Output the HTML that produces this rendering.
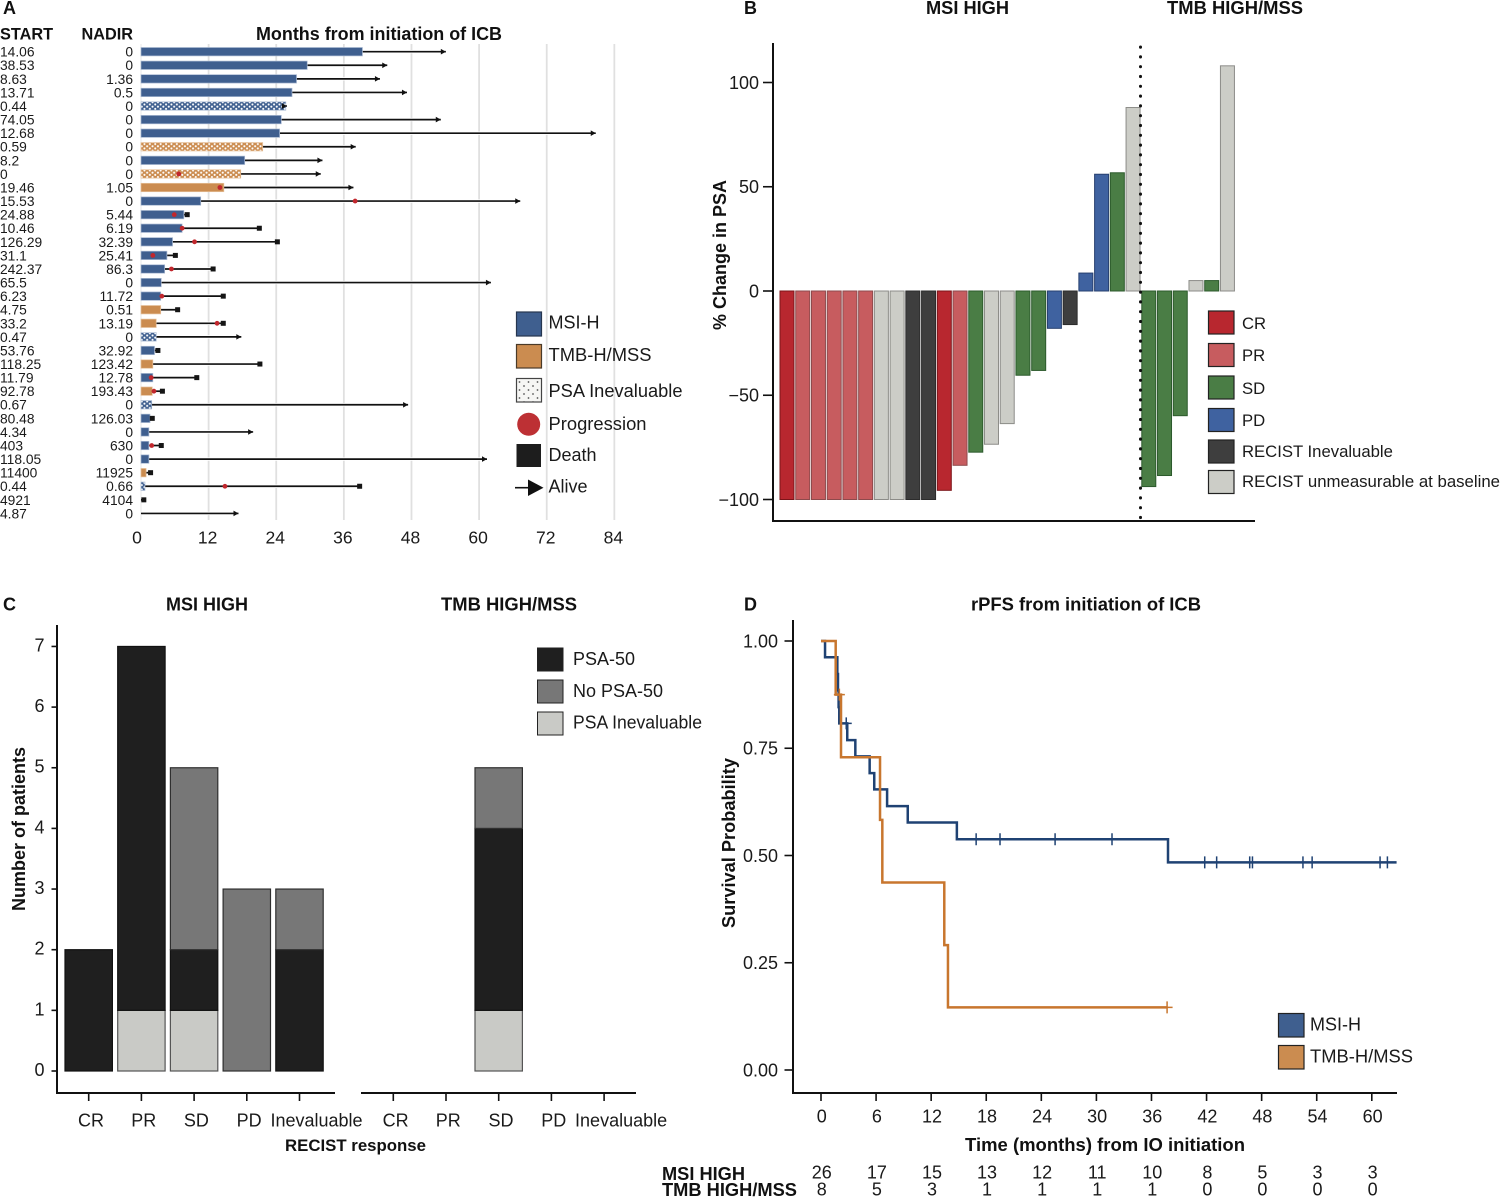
<!DOCTYPE html>
<html lang="en">
<head>
<meta charset="utf-8">
<title>ICB response in prostate cancer: four panel figure</title>
<style>
html,body{margin:0;padding:0;background:#fff;}
svg{display:block;font-family:"Liberation Sans",Arial,sans-serif;fill:#111;}
.b{font-weight:bold;}
.l{font-size:18px;fill:#1a1a1a;}
.h{font-size:18px;font-weight:bold;fill:#111;}
</style>
</head>
<body>
<svg id="fig" xmlns="http://www.w3.org/2000/svg" width="1500" height="1197" viewBox="0 0 1500 1197">
<defs>
<pattern id="dotBlue" width="5.4" height="4.4" patternUnits="userSpaceOnUse"><rect width="5.4" height="4.4" fill="#3f5f8f"/><circle cx="1.35" cy="1.1" r="1.05" fill="#fff"/><circle cx="4.05" cy="3.3" r="1.05" fill="#fff"/></pattern>
<pattern id="dotOrange" width="5.4" height="4.4" patternUnits="userSpaceOnUse"><rect width="5.4" height="4.4" fill="#cb8c50"/><circle cx="1.35" cy="1.1" r="1.05" fill="#fff"/><circle cx="4.05" cy="3.3" r="1.05" fill="#fff"/></pattern>
<pattern id="dotGrey" width="9" height="8" patternUnits="userSpaceOnUse"><rect width="9" height="8" fill="#f6f6f4"/><circle cx="2" cy="2" r="0.9" fill="#555"/><circle cx="6.5" cy="6" r="0.9" fill="#555"/></pattern>
</defs>

<!-- Panel A static -->
<g>
<text x="3" y="14" class="h">A</text>
<text x="0" y="39.5" class="b" font-size="16.3">START</text>
<text x="133" y="39.5" class="b" font-size="16.3" text-anchor="end">NADIR</text>
<text x="256" y="40" class="h" textLength="246" lengthAdjust="spacingAndGlyphs">Months from initiation of ICB</text>
<g id="swimGrid"></g>
<g id="swimRows"></g>
<g id="swimTicks"></g>
<g>
<rect x="516.5" y="312" width="25" height="24" fill="#3f5f8f" stroke="#26364f" stroke-width="1.2"/>
<text x="548.5" y="328.5" class="l">MSI-H</text>
<rect x="516.5" y="344.5" width="25" height="23.5" fill="#cb8c50" stroke="#4a3a28" stroke-width="1.2"/>
<text x="548.5" y="361" class="l" textLength="103" lengthAdjust="spacingAndGlyphs">TMB-H/MSS</text>
<rect x="516.5" y="378.5" width="25" height="23.5" fill="url(#dotGrey)" stroke="#444" stroke-width="1.2"/>
<text x="548.5" y="397" class="l" textLength="134" lengthAdjust="spacingAndGlyphs">PSA Inevaluable</text>
<circle cx="528.7" cy="424.3" r="11.5" fill="#bd3034"/>
<text x="548.5" y="430" class="l" textLength="98" lengthAdjust="spacingAndGlyphs">Progression</text>
<rect x="516.5" y="444" width="24.5" height="23" fill="#1d1d1d"/>
<text x="548.5" y="461" class="l">Death</text>
<g><line x1="515" y1="487.7" x2="530" y2="487.7" stroke="#111" stroke-width="1.6"/><polygon points="528,479.5 543.5,487.7 528,496" fill="#111"/></g>
<text x="548.5" y="492.5" class="l">Alive</text>
</g>
</g>

<!-- Panel B static -->
<g>
<text x="744" y="14" class="h">B</text>
<text x="926" y="14" class="h" textLength="83" lengthAdjust="spacingAndGlyphs">MSI HIGH</text>
<text x="1167" y="14" class="h" textLength="136" lengthAdjust="spacingAndGlyphs">TMB HIGH/MSS</text>
<text transform="translate(726,255) rotate(-90)" class="h" text-anchor="middle">% Change in PSA</text>
<line x1="773" y1="43" x2="773" y2="522" stroke="#111" stroke-width="2"/>
<line x1="772" y1="521" x2="1255" y2="521" stroke="#111" stroke-width="2"/>
<g id="wfTicks"></g>
<g id="wfBars"></g>
<line x1="1140.5" y1="47" x2="1140.5" y2="521" stroke="#111" stroke-width="3" stroke-linecap="round" stroke-dasharray="0.2 9.6"/>
<g>
<rect x="1208.5" y="311" width="25.5" height="23" fill="#b8272f" stroke="#222" stroke-width="1.2"/>
<text x="1242" y="329" font-size="16.7" fill="#1a1a1a">CR</text>
<rect x="1208.5" y="343.5" width="25.5" height="23" fill="#c75c5f" stroke="#222" stroke-width="1.2"/>
<text x="1242" y="361" font-size="16.7" fill="#1a1a1a">PR</text>
<rect x="1208.5" y="376" width="25.5" height="23" fill="#4a7d45" stroke="#222" stroke-width="1.2"/>
<text x="1242" y="394" font-size="16.7" fill="#1a1a1a">SD</text>
<rect x="1208.5" y="408.5" width="25.5" height="23" fill="#3f62a0" stroke="#222" stroke-width="1.2"/>
<text x="1242" y="426" font-size="16.7" fill="#1a1a1a">PD</text>
<rect x="1208.5" y="440" width="25.5" height="23" fill="#3e3e3e" stroke="#222" stroke-width="1.2"/>
<text x="1242" y="457" font-size="16.7" fill="#1a1a1a">RECIST Inevaluable</text>
<rect x="1208.5" y="470.5" width="25.5" height="23" fill="#cccdc7" stroke="#222" stroke-width="1.2"/>
<text x="1242" y="487" font-size="16.7" fill="#1a1a1a" textLength="258" lengthAdjust="spacingAndGlyphs">RECIST unmeasurable at baseline</text>
</g>
</g>

<!-- Panel C static -->
<g>
<text x="3" y="610.5" class="h">C</text>
<text x="166" y="610.5" class="h" textLength="82" lengthAdjust="spacingAndGlyphs">MSI HIGH</text>
<text x="441" y="610.5" class="h" textLength="136" lengthAdjust="spacingAndGlyphs">TMB HIGH/MSS</text>
<text transform="translate(25,829) rotate(-90)" class="h" text-anchor="middle">Number of patients</text>
<line x1="57" y1="625" x2="57" y2="1094" stroke="#111" stroke-width="2"/>
<line x1="56" y1="1093" x2="335" y2="1093" stroke="#111" stroke-width="2"/>
<line x1="361" y1="1093" x2="636" y2="1093" stroke="#111" stroke-width="2"/>
<g id="stTicks"></g>
<g id="stBars"></g>
<text x="285" y="1151" class="b" font-size="17" textLength="141" lengthAdjust="spacingAndGlyphs">RECIST response</text>
<g>
<rect x="537.5" y="648" width="25.5" height="23" fill="#1f1f1f" stroke="#222" stroke-width="1"/>
<text x="573" y="665" class="l">PSA-50</text>
<rect x="537.5" y="680" width="25.5" height="23" fill="#777" stroke="#222" stroke-width="1"/>
<text x="573" y="697" class="l">No PSA-50</text>
<rect x="537.5" y="712" width="25.5" height="23" fill="#c9cac6" stroke="#222" stroke-width="1"/>
<text x="573" y="728.5" class="l" textLength="129" lengthAdjust="spacingAndGlyphs">PSA Inevaluable</text>
</g>
</g>

<!-- Panel D static -->
<g>
<text x="744" y="610.5" class="h">D</text>
<text x="971" y="610.5" class="h" textLength="230" lengthAdjust="spacingAndGlyphs">rPFS from initiation of ICB</text>
<text transform="translate(735,843) rotate(-90)" class="b" font-size="18.2" fill="#111" text-anchor="middle" textLength="170" lengthAdjust="spacingAndGlyphs">Survival Probability</text>
<line x1="793" y1="620" x2="793" y2="1094" stroke="#111" stroke-width="2"/>
<line x1="792" y1="1093" x2="1397" y2="1093" stroke="#111" stroke-width="2"/>
<g id="kmTicks"></g>
<g id="kmCurves"></g>
<text x="965" y="1151" class="b" font-size="18" textLength="280" lengthAdjust="spacingAndGlyphs">Time (months) from IO initiation</text>
<text x="662" y="1180" class="h" textLength="83" lengthAdjust="spacingAndGlyphs">MSI HIGH</text>
<text x="662" y="1196" class="h" textLength="135" lengthAdjust="spacingAndGlyphs">TMB HIGH/MSS</text>
<g id="kmRisk"></g>
<g>
<rect x="1278.5" y="1013.5" width="25.5" height="23.5" fill="#3f5f8f" stroke="#222" stroke-width="1.2"/>
<text x="1310" y="1030.5" class="l">MSI-H</text>
<rect x="1278.5" y="1045.5" width="25.5" height="23.5" fill="#cb8c50" stroke="#222" stroke-width="1.2"/>
<text x="1310" y="1062.5" class="l" textLength="103" lengthAdjust="spacingAndGlyphs">TMB-H/MSS</text>
</g>
</g>
</svg>

<script>
/* ---------- Panel A data ---------- */
var startPsa = ['14.06','38.53','8.63','13.71','0.44','74.05','12.68','0.59','8.2','0','19.46','15.53','24.88','10.46','126.29','31.1','242.37','65.5','6.23','4.75','33.2','0.47','53.76','118.25','11.79','92.78','0.67','80.48','4.34','403','118.05','11400','0.44','4921','4.87'];
var nadirPsa = ['0','0','1.36','0.5','0','0','0','0','0','0','1.05','0','5.44','6.19','32.39','25.41','86.3','0','11.72','0.51','13.19','0','32.92','123.42','12.78','193.43','0','126.03','0','630','0','11925','0.66','4104','0'];
var cohort = ['M','M','M','M','M','M','M','T','M','T','T','M','M','M','M','M','M','M','M','T','T','M','M','T','M','T','M','M','M','M','M','T','M','M','M'];
var inevaluable = [0,0,0,0,1,0,0,1,0,1,0,0,0,0,0,0,0,0,0,0,0,1,0,0,0,0,1,0,0,0,0,0,1,0,0];
var treatmentMonths = [39.3,29.5,27.6,26.8,25.7,24.9,24.6,21.6,18.4,17.7,14.7,10.6,7.6,7.3,5.6,4.6,4.2,3.6,3.5,3.5,2.7,2.7,2.4,2.1,2.1,2.0,1.9,1.6,1.4,1.4,1.4,0.9,0.7,0,0];
var followUpMonths = [54.1,43.7,42.4,47.2,25.9,53.2,80.7,38.1,32.2,31.9,37.7,67.3,8.2,21.0,24.2,6.1,12.8,62.1,14.6,6.5,14.6,17.8,3.0,21.1,9.9,3.8,47.4,2.0,19.9,3.6,61.4,1.7,38.8,0.5,17.3];
var outcome = ['A','A','A','A','A','A','A','A','A','A','A','A','D','D','D','D','D','A','D','D','D','A','D','D','D','D','A','D','A','D','A','D','D','D','A'];
var progressionMonths = [null,null,null,null,null,null,null,null,null,6.7,14.0,38.0,5.9,7.3,9.5,2.1,5.4,null,3.7,null,13.5,null,null,null,1.8,2.3,null,null,null,1.9,null,null,14.9,null,null];
var swimTickLabels = [0,12,24,36,48,60,72,84];

/* ---------- Panel B data ---------- */
var wfResponse = ['CR','PR','PR','PR','PR','PR','U','U','I','I','CR','PR','SD','U','U','SD','SD','PD','I','PD','PD','SD','U','SD','SD','SD','U','SD','U'];
var wfChange = [-100,-100,-100,-100,-100,-100,-100,-100,-100,-100,-95.6,-83.6,-77.3,-73.5,-63.6,-40.4,-38.1,-17.9,-16.1,8.6,56,56.7,88,-93.8,-88.5,-59.8,5,5,108];
var wfTickLabels = [100,50,0,-50,-100];

/* ---------- Panel C data ---------- */
var recistCategories = ['CR','PR','SD','PD','Inevaluable'];
var msiPsa50 = [2,6,1,0,2];
var msiNoPsa50 = [0,0,3,3,1];
var msiPsaInevaluable = [0,1,1,0,0];
var tmbPsa50 = [0,0,3,0,0];
var tmbNoPsa50 = [0,0,1,0,0];
var tmbPsaInevaluable = [0,0,1,0,0];
var stackedTickLabels = [0,1,2,3,4,5,6,7];

/* ---------- Panel D data ---------- */
var msiTimes = [0,0.44,1.78,1.85,1.92,1.99,2.86,3.74,5.3,5.8,7.2,9.45,14.8,37.8];
var msiSurvival = [1,0.962,0.923,0.885,0.846,0.808,0.769,0.731,0.692,0.654,0.615,0.577,0.538,0.484];
var msiEnd = 62.7;
var msiCensored = [2.75,16.9,19.5,25.5,31.7,41.8,43.1,46.7,47.0,52.5,53.5,60.9,61.7];
var tmbTimes = [0,1.6,2.18,6.43,6.68,13.43,13.83];
var tmbSurvival = [1,0.875,0.729,0.583,0.437,0.291,0.146];
var tmbEnd = 37.7;
var tmbCensored = [2.0,37.7];
var kmXTickLabels = [0,6,12,18,24,30,36,42,48,54,60];
var kmYTickLabels = ['1.00','0.75','0.50','0.25','0.00'];
var msiAtRisk = [26,17,15,13,12,11,10,8,5,3,3];
var tmbAtRisk = [8,5,3,1,1,1,1,0,0,0,0];

/* ---------- helpers ---------- */
var NS = 'http://www.w3.org/2000/svg';
function mk(parent, tag, attrs, name, content) {
  var el = document.createElementNS(NS, tag);
  for (var k in attrs) { el.setAttribute(k, attrs[k]); }
  
  
  if (content !== undefined) { el.textContent = content; }
  parent.appendChild(el);
  return el;
}
function label(parent, x, yc, str, size, anchor, name) {
  return mk(parent, 'text', {x: x, y: yc + size * 0.36, 'font-size': size, 'text-anchor': anchor, fill: '#1a1a1a'}, name, str);
}
function byId(id) { return document.getElementById(id); }

/* ---------- Panel A ---------- */
function swimX(m) { return 141 + m * 5.635; }
function swimY(i) { return 51.7 + i * 13.58; }
(function () {
  var grid = byId('swimGrid'), rows = byId('swimRows'), ticks = byId('swimTicks');
  swimTickLabels.forEach(function (t) {
    var x = swimX(t);
    mk(grid, 'line', {x1: x, x2: x, y1: 44, y2: 520, stroke: t === 0 ? '#ececec' : '#e0e0e0', 'stroke-width': t === 0 ? 1.2 : 1.8}, 'gridline-' + t);
    label(ticks, x - (t === 0 ? 4 : 1), 537, String(t), 17.5, 'middle', 'x-tick-label-' + t);
  });
  startPsa.forEach(function (s, i) {
    var y = swimY(i);
    label(rows, 0, y, s, 13.8, 'start', 'start-psa-' + i);
    label(rows, 133, y, nadirPsa[i], 13.8, 'end', 'nadir-psa-' + i);
    var x0 = swimX(treatmentMonths[i]), x1 = swimX(followUpMonths[i]);
    mk(rows, 'line', {x1: x0, x2: x1, y1: y, y2: y, stroke: '#fff', 'stroke-width': 3.4}, 'line-halo-' + i);
    mk(rows, 'line', {x1: x0, x2: x1, y1: y, y2: y, stroke: '#111', 'stroke-width': 1.7}, 'followup-line-' + i);
    if (treatmentMonths[i] > 0) {
      var base = cohort[i] === 'M' ? '#3f5f8f' : '#cb8c50';
      var edge = cohort[i] === 'M' ? '#a9b9d2' : '#e6c09a';
      var fill = inevaluable[i] ? (cohort[i] === 'M' ? 'url(#dotBlue)' : 'url(#dotOrange)') : base;
      mk(rows, 'rect', {x: 141, y: y - 4.2, width: x0 - 141, height: 8.4, fill: fill, stroke: edge, 'stroke-width': 0.7}, 'treatment-bar-' + i);
    }
    if (outcome[i] === 'A') {
      mk(rows, 'polygon', {points: (x1 - 5) + ',' + (y - 2.8) + ' ' + x1 + ',' + y + ' ' + (x1 - 5) + ',' + (y + 2.8), fill: '#111'}, 'alive-arrow-' + i);
    } else {
      mk(rows, 'rect', {x: x1 - 2.5, y: y - 2.5, width: 5, height: 5, fill: '#151515'}, 'death-marker-' + i);
    }
    if (progressionMonths[i] !== null) {
      mk(rows, 'circle', {cx: swimX(progressionMonths[i]), cy: y, r: 2.4, fill: '#c1272d'}, 'progression-marker-' + i);
    }
  });
})();

/* ---------- Panel B ---------- */
function wfY(v) { return 291 - v * 2.085; }
function wfX(i) { return 780 + i * 15.73; }
(function () {
  var fills = {CR: '#b8272f', PR: '#c75c5f', SD: '#4a7d45', PD: '#3f62a0', I: '#3e3e3e', U: '#cccdc7'};
  var edges = {CR: '#7c1419', PR: '#8d4a4c', SD: '#2c5a2c', PD: '#27406f', I: '#2c2c2c', U: '#8c8c88'};
  var ticks = byId('wfTicks'), bars = byId('wfBars');
  wfTickLabels.forEach(function (t) {
    var y = wfY(t);
    mk(ticks, 'line', {x1: 763, x2: 773, y1: y, y2: y, stroke: '#111', 'stroke-width': 1.6}, 'y-tick-' + t);
    label(ticks, 759, y, String(t).replace('-', '\u2212'), 18, 'end', 'y-tick-label-' + t);
  });
  wfChange.forEach(function (v, i) {
    var r = wfResponse[i];
    var top = Math.min(wfY(v), wfY(0)), h = Math.abs(wfY(v) - wfY(0));
    mk(bars, 'rect', {x: wfX(i), y: top, width: 14, height: h, fill: fills[r], stroke: edges[r], 'stroke-width': 1}, 'waterfall-bar-' + i);
  });
})();

/* ---------- Panel C ---------- */
function stY(v) { return 1071 - v * 60.65; }
function stX(origin, i) { return origin + i * 52.7; }
function drawStack(origin, inev, psa, noPsa, group) {
  var bars = byId('stBars'), ticks = byId('stTicks');
  recistCategories.forEach(function (cat, i) {
    var cx = stX(origin, i), base = 0;
    [[inev[i], '#c9cac6', '#555', 'psa-inevaluable'], [psa[i], '#1f1f1f', '#111', 'psa-50'], [noPsa[i], '#777777', '#2f2f2f', 'no-psa-50']].forEach(function (s) {
      if (s[0] > 0) {
        mk(bars, 'rect', {x: cx - 23.7, y: stY(base + s[0]), width: 47.4, height: s[0] * 60.65, fill: s[1], stroke: s[2], 'stroke-width': 1.2}, group + '-' + cat.toLowerCase() + '-' + s[3]);
        base += s[0];
      }
    });
    mk(ticks, 'line', {x1: cx, x2: cx, y1: 1093, y2: 1101, stroke: '#111', 'stroke-width': 1.6}, group + '-x-tick-' + i);
    label(ticks, cx + (cat === 'Inevaluable' ? 17 : 2.3), 1120, cat, 18, 'middle', group + '-x-label-' + i);
  });
}
(function () {
  var ticks = byId('stTicks');
  stackedTickLabels.forEach(function (t) {
    var y = stY(t);
    mk(ticks, 'line', {x1: 51.5, x2: 57, y1: y, y2: y, stroke: '#111', 'stroke-width': 1.6}, 'stacked-y-tick-' + t);
    label(ticks, 44.5, y - 1.5, String(t), 18, 'end', 'stacked-y-label-' + t);
  });
  drawStack(88.7, msiPsaInevaluable, msiPsa50, msiNoPsa50, 'msi');
  drawStack(393.3, tmbPsaInevaluable, tmbPsa50, tmbNoPsa50, 'tmb');
})();

/* ---------- Panel D ---------- */
function kmX(t) { return 821 + t * 9.18; }
function kmY(s) { return 1070 - s * 429; }
function survivalAt(times, surv, t) {
  var s = surv[0];
  for (var i = 0; i < times.length; i++) { if (times[i] <= t) { s = surv[i]; } }
  return s;
}
function drawCurve(times, surv, end, censored, color, name) {
  var g = byId('kmCurves');
  var d = 'M' + kmX(times[0]) + ' ' + kmY(surv[0]);
  for (var i = 1; i < times.length; i++) {
    d += ' H' + kmX(times[i]) + ' V' + kmY(surv[i]);
  }
  d += ' H' + kmX(end);
  mk(g, 'path', {d: d, fill: 'none', stroke: color, 'stroke-width': 2.5}, name + '-curve');
  censored.forEach(function (t, i) {
    var x = kmX(t), y = kmY(survivalAt(times, surv, t));
    mk(g, 'path', {d: 'M' + x + ' ' + (y - 6) + ' V' + (y + 6) + ' M' + (x - 5.5) + ' ' + y + ' H' + (x + 5.5), fill: 'none', stroke: color, 'stroke-width': 1.5}, name + '-censor-' + i);
  });
}
(function () {
  var ticks = byId('kmTicks'), risk = byId('kmRisk');
  kmYTickLabels.forEach(function (t) {
    var y = kmY(parseFloat(t));
    mk(ticks, 'line', {x1: 784.5, x2: 793, y1: y, y2: y, stroke: '#111', 'stroke-width': 1.6}, 'km-y-tick-' + t);
    label(ticks, 778, y, t, 18, 'end', 'km-y-label-' + t);
  });
  kmXTickLabels.forEach(function (t, i) {
    var x = kmX(t);
    mk(ticks, 'line', {x1: x, x2: x, y1: 1093, y2: 1101, stroke: '#111', 'stroke-width': 1.6}, 'km-x-tick-' + t);
    label(ticks, x + 0.8, 1116, String(t), 18, 'middle', 'km-x-label-' + t);
    label(risk, x + 0.8, 1172, String(msiAtRisk[i]), 18, 'middle', 'risk-msi-' + t);
    label(risk, x + 0.8, 1189, String(tmbAtRisk[i]), 18, 'middle', 'risk-tmb-' + t);
  });
  drawCurve(msiTimes, msiSurvival, msiEnd, msiCensored, '#1f4273', 'msi');
  drawCurve(tmbTimes, tmbSurvival, tmbEnd, tmbCensored, '#c8762e', 'tmb');
})();
</script>
</body>
</html>
